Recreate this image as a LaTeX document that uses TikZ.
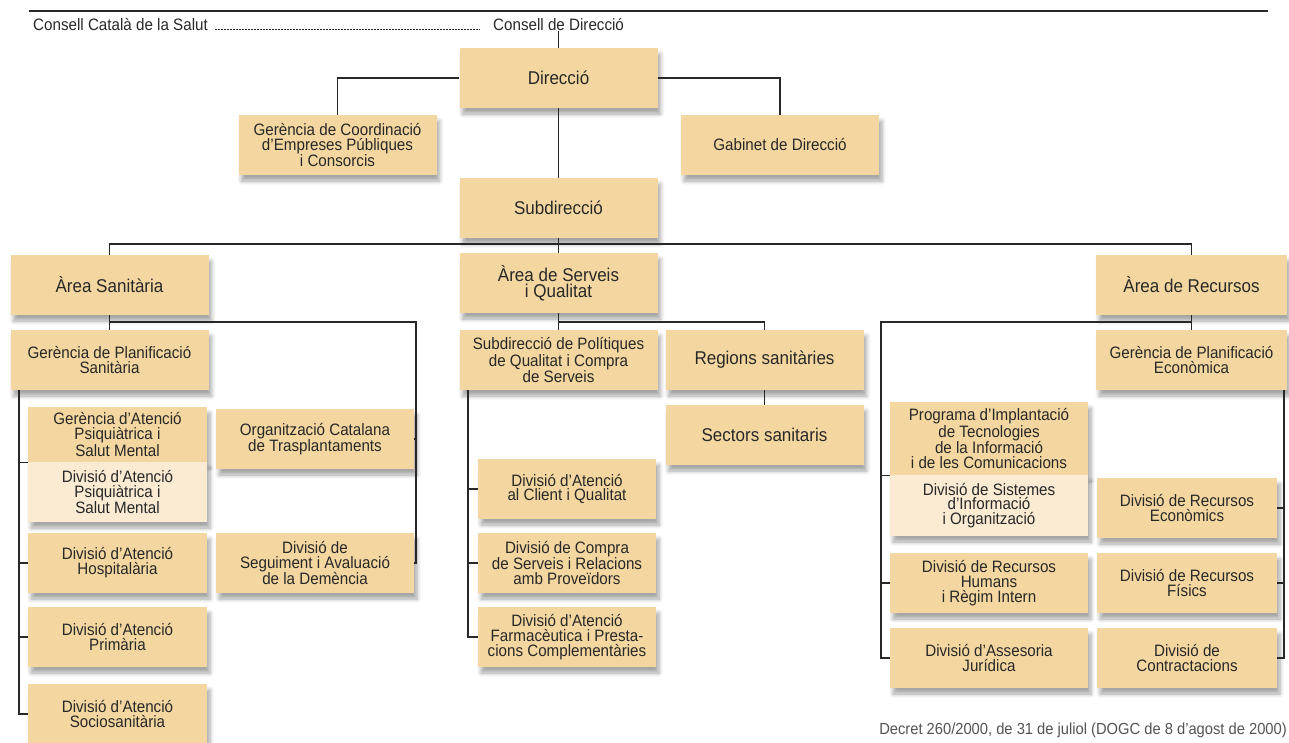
\documentclass[tikz,border=0pt]{standalone}
\usepackage{fontspec}
\setmainfont[FakeStretch=0.92]{Liberation Sans}
\usetikzlibrary{shadows.blur}
\definecolor{boxtan}{RGB}{244,215,160}
\definecolor{boxcream}{RGB}{250,235,210}
\definecolor{inkgray}{RGB}{40,40,40}
\tikzset{
    box/.style={fill=boxtan,minimum width=198pt,minimum height=60pt,inner sep=0pt,
        align=center,text=inkgray,font=\fontsize{16.5}{14.8}\selectfont,
        blur shadow={shadow xshift=3pt,shadow yshift=-6pt,shadow blur steps=6,
            shadow blur radius=4pt,shadow opacity=35}},
    lbox/.style={box,fill=boxcream},
    big/.style={font=\fontsize{18.5}{16.5}\selectfont},
    conn/.style={draw=inkgray,line width=1.2pt},
    plain/.style={inner sep=0pt,text=inkgray,font=\fontsize{16.5}{14.8}\selectfont}
}
\begin{document}
\begin{tikzpicture}[x=1pt,y=-1pt]
        \useasboundingbox (0,0) rectangle (1289,742);
        \draw[line width=1.5pt,inkgray] (29,11)--(1268,11);
        \node[plain,anchor=west] at (33,25) (ccs) {Consell Català de la Salut};
        \node[plain,anchor=west] at (493,25) (cdir) {Consell de Direcció};
        \draw[inkgray,line width=1pt,dash pattern=on 1.5pt off 1.5pt] ([xshift=7pt,yshift=1pt]ccs.base east)--([xshift=-13pt,yshift=1pt]cdir.base west);

        \node[box,big] at (558.5,78) (dir) {Direcció};
        \node[box] at (337.5,145) (gco) {Gerència de Coordinació\\d'Empreses Públiques\\i Consorcis};
        \node[box] at (780,145) (gab) {Gabinet de Direcció};
        \node[box,big] at (558.5,208) (sub) {Subdirecció};

        \node[box,big] at (109.5,285) (asan) {Àrea Sanitària};
        \node[box,big] at (558.5,283) (aser) {Àrea de Serveis\\i Qualitat};
        \node[box,big,minimum width=191pt] at (1191.5,285) (arec) {Àrea de Recursos};

        \node[box] at (109.5,360) (gps) {Gerència de Planificació\\Sanitària};
        \node[box,minimum width=179pt,minimum height=55pt] at (117.5,434.5) (gapsm) {Gerència d'Atenció\\Psiquiàtrica i\\Salut Mental};
        \node[lbox,minimum width=179pt] at (117.5,492) (dapsm) {Divisió d'Atenció\\Psiquiàtrica i\\Salut Mental};
        \node[box,minimum width=179pt] at (117.5,563) (dah) {Divisió d'Atenció\\Hospitalària};
        \node[box,minimum width=179pt] at (117.5,637) (dap) {Divisió d'Atenció\\Primària};
        \node[box,minimum width=179pt] at (117.5,714) (das) {Divisió d'Atenció\\Sociosanitària};
        \node[box] at (315,439) (oct) {Organització Catalana\\de Trasplantaments};
        \node[box] at (315,563) (dsad) {Divisió de\\Seguiment i Avaluació\\de la Demència};

        \node[box] at (558.5,360) (spq) {Subdirecció de Polítiques\\de Qualitat i Compra\\de Serveis};
        \node[box,big] at (764.5,360) (rsa) {Regions sanitàries};
        \node[box,big] at (764.5,435) (ssa) {Sectors sanitaris};
        \node[box,minimum width=178pt] at (567,489) (dacq) {Divisió d'Atenció\\al Client i Qualitat};
        \node[box,minimum width=178pt] at (567,563) (dcsr) {Divisió de Compra\\de Serveis i Relacions\\amb Proveïdors};
        \node[box,minimum width=178pt] at (567,637) (dafp) {Divisió d'Atenció\\Farmacèutica i Presta-\\cions Complementàries};

        \node[box,minimum width=191pt] at (1191.5,360) (gpe) {Gerència de Planificació\\Econòmica};
        \node[box,minimum height=73pt] at (989,438.5) (pitic) {Programa d'Implantació\\de Tecnologies\\de la Informació\\i de les Comunicacions};
        \node[lbox,minimum height=61pt] at (989,505.5) (dsio) {Divisió de Sistemes\\d'Informació\\i Organització};
        \node[box] at (989,583) (drhri) {Divisió de Recursos\\Humans\\i Règim Intern};
        \node[box] at (989,658) (daj) {Divisió d'Assesoria\\Jurídica};
        \node[box,minimum width=180pt] at (1187,508) (drec) {Divisió de Recursos\\Econòmics};
        \node[box,minimum width=180pt] at (1187,583) (drf) {Divisió de Recursos\\Físics};
        \node[box,minimum width=180pt] at (1187,658) (dcon) {Divisió de\\Contractacions};

        \node[plain,anchor=east,text=inkgray!80,font=\fontsize{16}{14}\selectfont] at (1287,730) (decret) {Decret 260/2000, de 31 de juliol (DOGC de 8 d'agost de 2000)};

        \coordinate (bus) at (558.5,244);
        \coordinate (sanr) at (416,322);
        \coordinate (sanl) at (19,0);
        \coordinate (serb) at (764.5,322);
        \coordinate (serl) at (468,0);
        \coordinate (recl) at (881,322);
        \coordinate (recr) at (1284,0);

        \draw[conn] (cdir.south -| dir.north)--(dir.north);
        \draw[conn] (dir.west)-|(gco.north);
        \draw[conn] (dir.east)-|(gab.north);
        \draw[conn] (dir.south)--(sub.north);
        \draw[conn] (sub.south)--(aser.north);
        \draw[conn] (asan.north)|-(bus)-|(arec.north);

        \draw[conn] (asan.south)--(gps.north);
        \draw[conn] (asan.south |- sanr)--(sanr)|-(dsad.east);
        \draw[conn] (oct.east)--(oct.east -| sanr);
        \draw[conn] (gps.south -| sanl)|-(das.west);
        \draw[conn] (gapsm.south west)--(gapsm.south west -| sanl);
        \foreach \n in {dah,dap}
            \draw[conn] (\n.west)--(\n.west -| sanl);

        \draw[conn] (aser.south)--(spq.north);
        \draw[conn] (aser.south |- serb)-|(rsa.north);
        \draw[conn] (rsa.south)--(ssa.north);
        \draw[conn] (spq.south -| serl)|-(dafp.west);
        \foreach \n in {dacq,dcsr}
            \draw[conn] (\n.west)--(\n.west -| serl);

        \draw[conn] (arec.south)--(gpe.north);
        \draw[conn] (arec.south |- recl)--(recl)|-(daj.west);
        \draw[conn] (pitic.south west)--(pitic.south west -| recl);
        \draw[conn] (drhri.west)--(drhri.west -| recl);
        \draw[conn] (gpe.south -| recr)|-(dcon.east);
        \foreach \n in {drec,drf}
            \draw[conn] (\n.east)--(\n.east -| recr);
    \end{tikzpicture}
\end{document}
